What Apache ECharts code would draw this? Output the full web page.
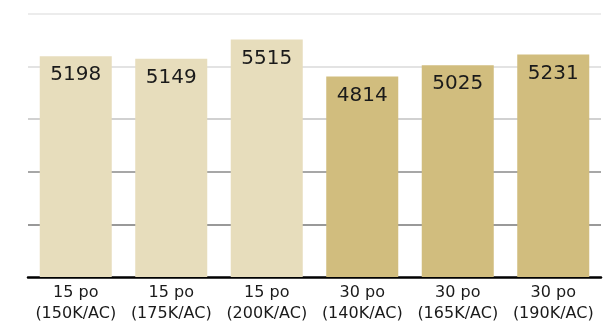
<!DOCTYPE html>
<html>
<head>
<meta charset="utf-8">
<style>html,body{margin:0;padding:0;background:#fff;}#c{width:613px;height:324px;}</style>
<script src="https://cdn.jsdelivr.net/npm/echarts@6/dist/echarts.min.js"></script>
</head>
<body>
<div id="c"></div>
<script>
var categories = ['15 po\n(150K/AC)', '15 po\n(175K/AC)', '15 po\n(200K/AC)', '30 po\n(140K/AC)', '30 po\n(165K/AC)', '30 po\n(190K/AC)'];
var values = [5198, 5149, 5515, 4814, 5025, 5231];
var barColors = ['#e7ddbc', '#e7ddbc', '#e7ddbc', '#d1bd7e', '#d1bd7e', '#d1bd7e'];
var yMin = 1000, yMax = 6000, yStep = 1000;

var chart = echarts.init(document.getElementById('c'), null, {renderer: 'canvas'});
chart.setOption({
  animation: false,
  grid: {left: 28, right: 12, top: 14, bottom: 44, containLabel: false},
  xAxis: {
    type: 'category',
    data: categories,
    axisLine: {show: true, lineStyle: {color: '#000', width: 2.5}},
    axisTick: {show: false},
    axisLabel: {fontFamily: 'DejaVu Sans', fontSize: 16, color: '#1a1a1a', lineHeight: 21, margin: 5, interval: 0}
  },
  yAxis: {
    type: 'value',
    min: yMin, max: yMax, interval: yStep,
    axisLine: {show: false},
    axisTick: {show: false},
    axisLabel: {show: false},
    splitLine: {show: true, showMinLine: false, lineStyle: {width: 1.5, color: ['#777777', '#8a8a8a', '#c2c2c2', '#dadada', '#e6e6e6']}}
  },
  series: [{
    type: 'bar',
    data: values.map(function (v, i) { return {value: v, itemStyle: {color: barColors[i]}}; }),
    barCategoryGap: '24.6%',
    label: {show: true, position: 'insideTop', distance: 9, fontFamily: 'DejaVu Sans', fontSize: 20, color: '#1a1a1a'}
  }]
});
</script>
</body>
</html>
